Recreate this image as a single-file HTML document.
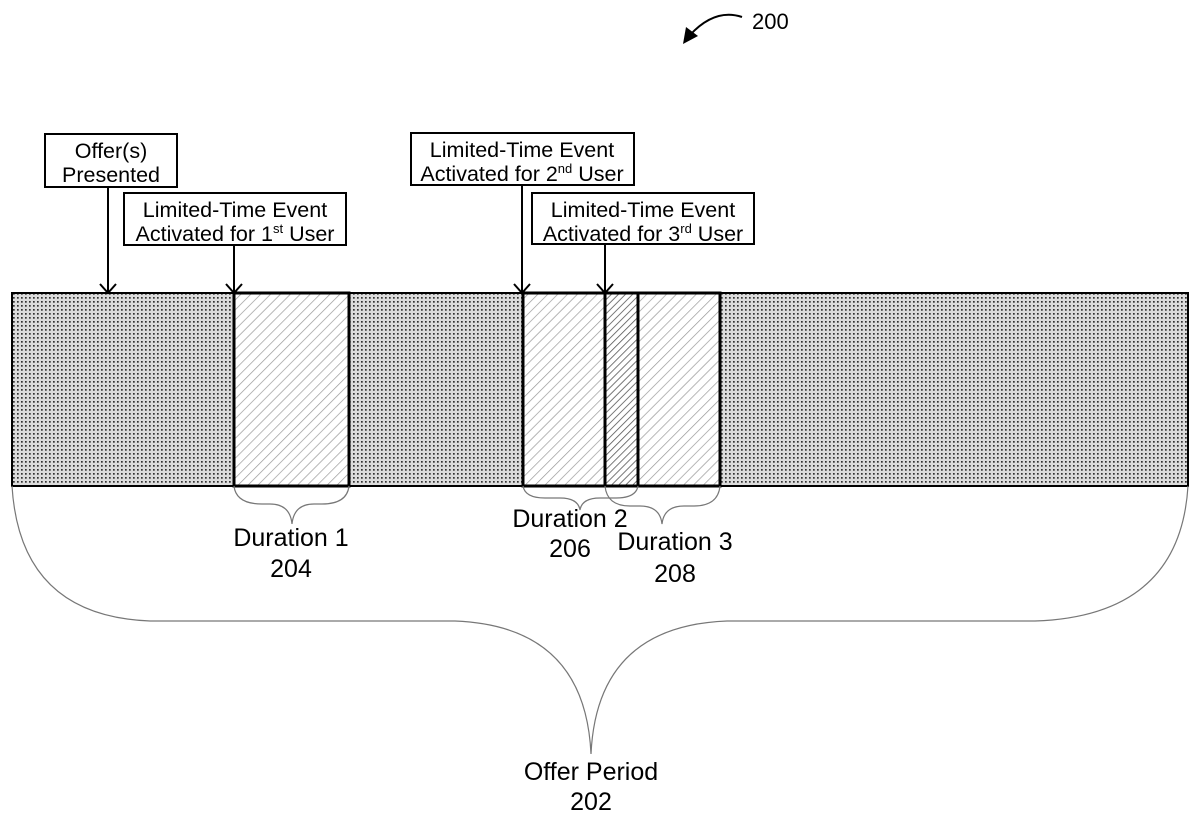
<!DOCTYPE html>
<html><head><meta charset="utf-8"><style>
html,body{margin:0;padding:0;background:#fff;}
svg{display:block;}
text{font-family:"Liberation Sans",Arial,sans-serif;fill:#000;}
</style></head><body>
<svg width="1200" height="822" viewBox="0 0 1200 822" xmlns="http://www.w3.org/2000/svg">
<defs>
<pattern id="dots" width="4" height="4" patternUnits="userSpaceOnUse">
<rect width="4" height="4" fill="#dcdcdc"/>
<rect x="1" y="1" width="1.7" height="1.7" fill="#333"/>
</pattern>
<pattern id="hatch" width="7" height="7" patternUnits="userSpaceOnUse" patternTransform="rotate(45)">
<rect width="7" height="7" fill="#fff"/>
<line x1="0" y1="0" x2="0" y2="7" stroke="#999" stroke-width="1.4"/>
</pattern>
<pattern id="hatch2" width="5" height="5" patternUnits="userSpaceOnUse" patternTransform="rotate(45)">
<rect width="5" height="5" fill="#fff"/>
<line x1="0" y1="0" x2="0" y2="5" stroke="#555" stroke-width="1.6"/>
</pattern>
</defs>

<path d="M742 17 Q715 8 690 35" fill="none" stroke="#000" stroke-width="2"/>
<polygon points="683,44 686,27 698,36" fill="#000"/>
<text x="752" y="29" font-size="22">200</text>

<rect x="12" y="293" width="1176" height="193" fill="url(#dots)" stroke="#000" stroke-width="2"/>
<rect x="234" y="293" width="115" height="193" fill="url(#hatch)" stroke="#000" stroke-width="3"/>
<rect x="523" y="293" width="115" height="193" fill="url(#hatch)"/>
<rect x="605" y="293" width="115" height="193" fill="url(#hatch)"/>
<rect x="605" y="293" width="33" height="193" fill="url(#hatch2)"/>
<rect x="523" y="293" width="115" height="193" fill="none" stroke="#000" stroke-width="3"/>
<rect x="605" y="293" width="115" height="193" fill="none" stroke="#000" stroke-width="3"/>

<g fill="#fff" stroke="#000" stroke-width="2">
<rect x="45" y="134" width="132" height="53"/>
<rect x="124" y="193" width="222" height="52"/>
<rect x="411" y="133" width="223" height="52"/>
<rect x="532" y="193" width="222" height="51"/>
</g>
<g font-size="21.5" text-anchor="middle">
<text x="111" y="158">Offer(s)</text>
<text x="111" y="182">Presented</text>
<text x="235" y="217">Limited-Time Event</text>
<text x="235" y="241">Activated for 1<tspan font-size="13" dy="-8">st</tspan><tspan dy="8"> User</tspan></text>
<text x="522" y="157">Limited-Time Event</text>
<text x="522" y="181">Activated for 2<tspan font-size="13" dy="-8">nd</tspan><tspan dy="8"> User</tspan></text>
<text x="643" y="217">Limited-Time Event</text>
<text x="643" y="241">Activated for 3<tspan font-size="13" dy="-8">rd</tspan><tspan dy="8"> User</tspan></text>
</g>

<g stroke="#000" stroke-width="2" fill="none">
<line x1="108" y1="187" x2="108" y2="293"/><polyline points="100,284 108,293 116,284"/>
<line x1="234" y1="245" x2="234" y2="293"/><polyline points="226,284 234,293 242,284"/>
<line x1="522" y1="185" x2="522" y2="293"/><polyline points="514,284 522,293 530,284"/>
<line x1="605" y1="244" x2="605" y2="293"/><polyline points="597,284 605,293 613,284"/>
</g>

<g stroke="#777" stroke-width="1.2" fill="none">
<path d="M234 486 Q236 504 262 504 L270 504 Q290 504 292 524 Q294 504 314 504 L322 504 Q347 504 349 486"/>
<path d="M523 486 Q525 498 545 498 L560 498 Q578 498 580 510 Q582 498 600 498 L616 498 Q636 498 638 486"/>
<path d="M605 486 Q607 506 630 506 L640 506 Q660 506 662 524 Q664 506 684 506 L694 506 Q718 506 720 486"/>
<path d="M12 486 Q20 616 150 621 L455 621 Q585 626 591 754 Q597 626 727 621 L1035 621 Q1180 616 1188 486"/>
</g>

<g font-size="25" text-anchor="middle">
<text x="291" y="546">Duration 1</text>
<text x="291" y="577">204</text>
<text x="570" y="527">Duration 2</text>
<text x="570" y="557">206</text>
<text x="675" y="550">Duration 3</text>
<text x="675" y="582">208</text>
<text x="591" y="780">Offer Period</text>
<text x="591" y="810">202</text>
</g>
</svg>
</body></html>
